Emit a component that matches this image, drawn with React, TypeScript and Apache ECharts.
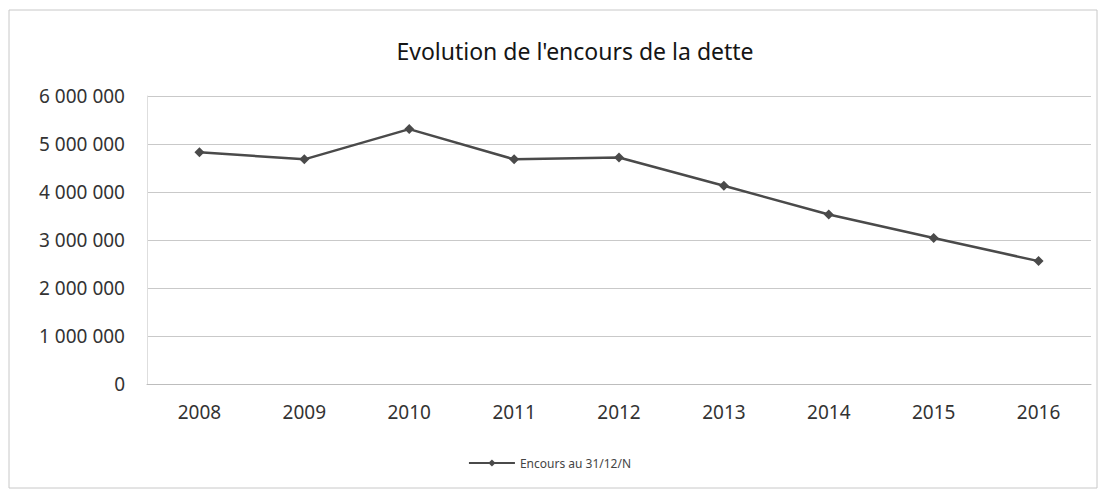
import React, { useEffect, useRef } from "react";
import * as echarts from "echarts";

const titleText = "Evolution de l'encours de la dette";
const seriesName = "Encours au 31/12/N";
const years = ["2008", "2009", "2010", "2011", "2012", "2013", "2014", "2015", "2016"];
const encours = [4830000, 4680000, 5310000, 4680000, 4720000, 4130000, 3530000, 3040000, 2560000];
const yTicks = { min: 0, max: 6000000, interval: 1000000 };

const fmt = (v: number) => {
  const s = String(Math.round(v));
  return s.replace(/\B(?=(\d{3})+(?!\d))/g, " ");
};

export default function App() {
  const ref = useRef<HTMLDivElement>(null);
  useEffect(() => {
    document.body.style.margin = "0";
    if (!ref.current) return;
    const chart = echarts.init(ref.current, null, { renderer: "svg" });
    const font = "'Noto Sans', 'Open Sans', sans-serif";
    chart.setOption({
      animation: false,
      backgroundColor: "#ffffff",
      title: {
        text: titleText,
        left: 570,
        top: 34,
        textAlign: "center",
        textStyle: { fontFamily: font, fontSize: 23, fontWeight: "normal", color: "#151515" },
      },
      graphic: [
        {
          type: "rect",
          shape: { x: 9, y: 10, width: 1088, height: 478 },
          style: { fill: "none", stroke: "#c8c8c8", lineWidth: 1 },
          silent: true,
        },
      ],
      legend: {
        bottom: 18,
        left: "center",
        itemWidth: 46,
        itemHeight: 9,
        itemGap: 6,
        textStyle: { fontFamily: font, fontSize: 12, color: "#444" },
        data: [seriesName],
      },
      grid: { left: 147, right: 8, top: 96, bottom: 108 },
      xAxis: {
        type: "category",
        data: years,
        boundaryGap: true,
        axisLine: { show: true, lineStyle: { color: "#bdbdbd" } },
        axisTick: { show: false },
        axisLabel: { fontFamily: font, fontSize: 19, color: "#333", margin: 18 },
      },
      yAxis: {
        type: "value",
        min: yTicks.min,
        max: yTicks.max,
        interval: yTicks.interval,
        axisLine: { show: true, lineStyle: { color: "#dedede" } },
        axisTick: { show: false },
        splitLine: { lineStyle: { color: "#c9c9c9", width: 1 } },
        axisLabel: { fontFamily: font, fontSize: 19, color: "#333", margin: 22, formatter: (v: number) => fmt(v) },
      },
      series: [
        {
          name: seriesName,
          type: "line",
          data: encours,
          symbol: "diamond",
          symbolSize: 10,
          lineStyle: { color: "#4a4a4a", width: 2.5 },
          itemStyle: { color: "#4a4a4a" },
        },
      ],
    });
    return () => chart.dispose();
  }, []);
  return <div ref={ref} style={{ width: 1099, height: 492 }} />;
}
